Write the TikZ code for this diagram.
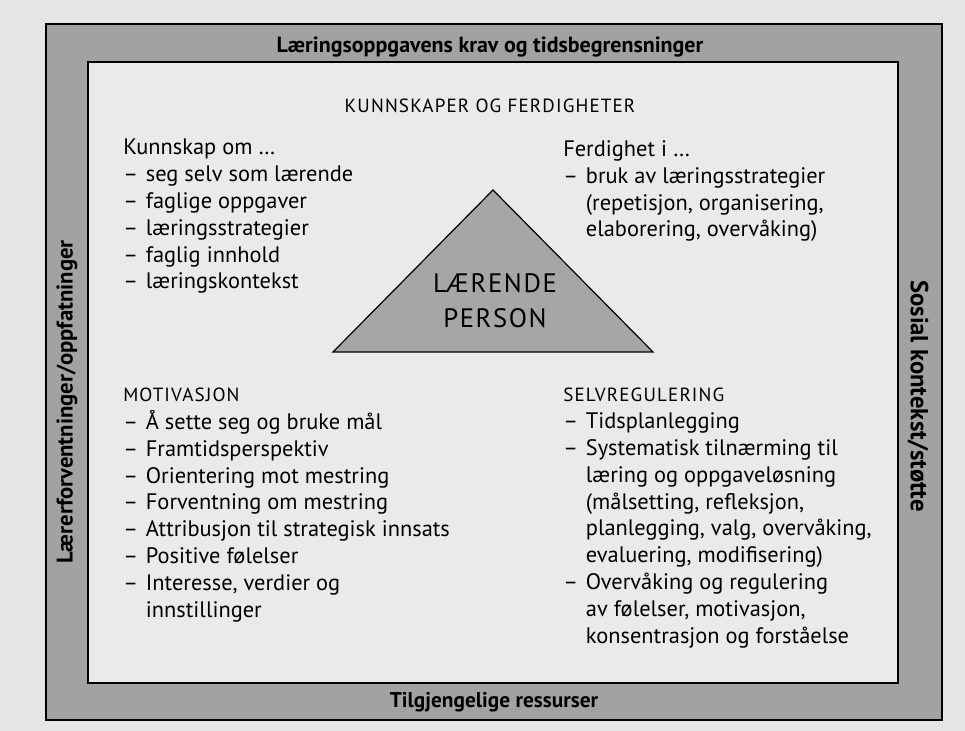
\documentclass[tikz,border=0pt]{standalone}
\usepackage{fontspec}
\setmainfont{PT Sans}
\newfontfamily\capsfont[LetterSpace=6]{PT Sans}
\usetikzlibrary{positioning}

\definecolor{paper}{HTML}{E7E5E3}
\definecolor{bandgray}{HTML}{A3A2A1}
\definecolor{boxfill}{HTML}{ECEAE8}
\definecolor{trigray}{HTML}{A8A6A4}

% list dash and the indent of a continued line
\newcommand{\listdash}{\makebox[17pt][l]{–}}
\newcommand{\listgap}{\hspace*{17pt}}

\begin{document}
\begin{tikzpicture}[x=0.75pt, y=-0.75pt,
    txt/.style={align=left, inner sep=0pt, anchor=base west,
      font=\fontsize{16.8}{20.1}\selectfont},
    head/.style={inner sep=0pt, anchor=base west, font=\capsfont\fontsize{14.3}{16}\selectfont},
    bandtxt/.style={inner sep=0pt, font=\bfseries\fontsize{16}{18}\selectfont}]
  \fill[paper] (0,0) rectangle (965,731);
  \useasboundingbox (0,0) rectangle (965,731);
  % outer band and inner box
  \draw[line width=1.2pt, fill=bandgray] (46,24) rectangle (942,720);
  \draw[line width=1pt, fill=boxfill] (88,62) rectangle (898,683);
  % band labels
  \node[bandtxt, font=\bfseries\fontsize{16.5}{18}\selectfont] (task) at (490,47) {Læringsoppgavens krav og tidsbegrensninger};
  \node[bandtxt] (res) at (494,702) {Tilgjengelige ressurser};
  \node[bandtxt, rotate=90, font=\bfseries\fontsize{17}{18}\selectfont] (teacher) at (67,402) {Lærerforventninger/oppfatninger};
  \node[bandtxt, rotate=-90, font=\bfseries\fontsize{18.5}{20}\selectfont] (social) at (918,396) {Sosial kontekst/støtte};
  % the learner
  \coordinate (apex) at (493,190);
  \coordinate (left) at (333,352);
  \coordinate (right) at (653,352);
  \draw[fill=trigray, line width=0.9pt] (apex) -- (left) -- (right) -- cycle;
  \node[inner sep=0pt, align=center, anchor=base, font=\capsfont\fontsize{20}{26.3}\selectfont]
    (person) at (495,328) {LÆRENDE\\PERSON};
  % knowledge and skills
  \node[head, anchor=base] (ks) at (490,113) {KUNNSKAPER OG FERDIGHETER};
  \node[txt] (know) at (123,289) {Kunnskap om …\\
    \listdash seg selv som lærende\\
    \listdash faglige oppgaver\\
    \listdash læringsstrategier\\
    \listdash faglig innhold\\
    \listdash læringskontekst};
  \node[txt] (skill) at (563,237) {Ferdighet i …\\
    \listdash bruk av læringsstrategier\\
    \listgap (repetisjon, organisering,\\
    \listgap elaborering, overvåking)};
  % motivation
  \node[head] (mot) at (123,402) {MOTIVASJON};
  \node[txt] (motlist) at (123,617) {\listdash Å sette seg og bruke mål\\
    \listdash Framtidsperspektiv\\
    \listdash Orientering mot mestring\\
    \listdash Forventning om mestring\\
    \listdash Attribusjon til strategisk innsats\\
    \listdash Positive følelser\\
    \listdash Interesse, verdier og\\
    \listgap innstillinger};
  % self-regulation
  \node[head] (selv) at (563,402) {SELVREGULERING};
  \node[txt] (selvlist) at (563,643) {\listdash Tidsplanlegging\\
    \listdash Systematisk tilnærming til\\
    \listgap læring og oppgaveløsning\\
    \listgap (målsetting, refleksjon,\\
    \listgap planlegging, valg, overvåking,\\
    \listgap evaluering, modifisering)\\
    \listdash Overvåking og regulering\\
    \listgap av følelser, motivasjon,\\
    \listgap konsentrasjon og forståelse};
\end{tikzpicture}
\end{document}
